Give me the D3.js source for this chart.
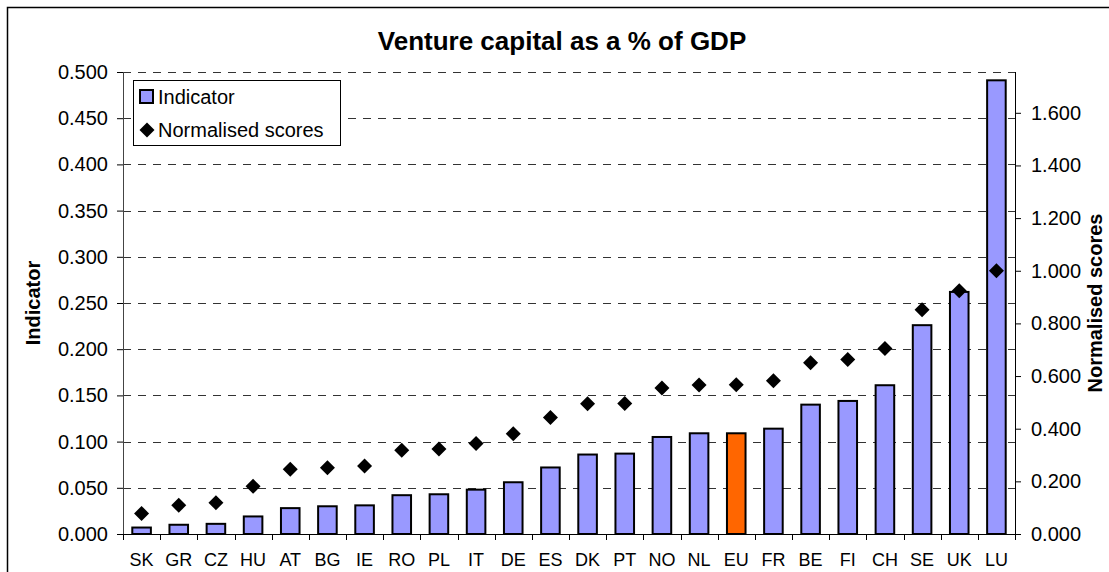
<!DOCTYPE html>
<html>
<head>
<meta charset="utf-8">
<script src="https://cdn.jsdelivr.net/npm/d3@7"></script>
<style>
  body { margin: 0; background: #fff; }
  svg text { font-family: "Liberation Sans", Arial, sans-serif; fill: #000; }
</style>
</head>
<body>
<svg id="chart" width="1109" height="572"></svg>
<script>
// values
var countries = ["SK","GR","CZ","HU","AT","BG","IE","RO","PL","IT","DE","ES",
                 "DK","PT","NO","NL","EU","FR","BE","FI","CH","SE","UK","LU"];
var indicator = [0.007,0.010,0.011,0.019,0.028,0.030,0.031,0.042,0.043,0.048,0.056,0.072,
                 0.086,0.087,0.105,0.109,0.109,0.114,0.140,0.144,0.161,0.226,0.262,0.491];
var normalised = [0.078,0.109,0.119,0.181,0.246,0.252,0.258,0.318,0.323,0.344,0.381,0.443,
                  0.495,0.496,0.555,0.566,0.567,0.582,0.651,0.663,0.705,0.852,0.924,1.000];
var leftTicks = [0,0.05,0.1,0.15,0.2,0.25,0.3,0.35,0.4,0.45,0.5];
var rightTicks = [0,0.2,0.4,0.6,0.8,1.0,1.2,1.4,1.6];

var rows = countries.map(function(c, i) {
  return { id: c, value: indicator[i], score: normalised[i] };
});

var svg = d3.select("#chart"),
    plotLeft = 123, plotRight = 1015, plotTop = 72, plotBottom = 534;

var x = d3.scaleBand().domain(countries).range([plotLeft, plotRight])
    .paddingInner(0.5).paddingOuter(0.25);
var yL = d3.scaleLinear().domain([0, 0.5]).range([plotBottom, plotTop]);
var yR = d3.scaleLinear().domain([0, 1.755]).range([plotBottom, plotTop]);

// outer frame (cropped on the right and bottom in the reference)
svg.append("rect")
  .attr("x", 7.5).attr("y", 7.5)
  .attr("width", 1200).attr("height", 700)
  .attr("fill", "none").attr("stroke", "#000").attr("stroke-width", 1.5);

svg.append("text")
  .attr("x", 562).attr("y", 50)
  .attr("text-anchor", "middle")
  .attr("font-weight", "bold")
  .attr("font-size", 26)
  .text("Venture capital as a % of GDP");

// gridlines
svg.append("g").selectAll("line")
  .data(leftTicks.slice(1))
  .enter().append("line")
  .attr("x1", plotLeft).attr("x2", plotRight)
  .attr("y1", function(d) { return Math.round(yL(d)) + 0.5; })
  .attr("y2", function(d) { return Math.round(yL(d)) + 0.5; })
  .attr("stroke", "#333").attr("stroke-dasharray", "8,7");

// bars
svg.append("g").selectAll("rect")
  .data(rows)
  .enter().append("rect")
  .attr("x", function(d) { return x(d.id); })
  .attr("y", function(d) { return yL(d.value); })
  .attr("width", x.bandwidth())
  .attr("height", function(d) { return plotBottom - yL(d.value); })
  .attr("fill", function(d) { return d.id === "EU" ? "#ff6600" : "#9999ff"; })
  .attr("stroke", "#000").attr("stroke-width", 2);

// diamonds
var diamond = "M0,-7.5L7.5,0L0,7.5L-7.5,0Z";
svg.append("g").selectAll("path")
  .data(rows)
  .enter().append("path")
  .attr("d", diamond)
  .attr("transform", function(d) {
    return "translate(" + (x(d.id) + x.bandwidth() / 2) + "," + yR(d.score) + ")";
  })
  .attr("fill", "#000");

// left axis
var axL = svg.append("g")
  .attr("transform", "translate(" + plotLeft + ",0)")
  .call(d3.axisLeft(yL).tickValues(leftTicks).tickFormat(d3.format(".3f")).tickSize(6).tickPadding(9));
axL.select(".domain").attr("stroke", "#444");
axL.selectAll("text").attr("font-size", 20).attr("font-family", null);

// right axis
var axR = svg.append("g")
  .attr("transform", "translate(" + plotRight + ",0)")
  .call(d3.axisRight(yR).tickValues(rightTicks).tickFormat(d3.format(".3f")).tickSize(6).tickPadding(10));
axR.selectAll("text").attr("font-size", 20).attr("font-family", null);
axR.select(".domain").attr("d", "M0.5," + plotTop + "V" + plotBottom);

// bottom axis: ticks between categories
var xg = svg.append("g");
xg.append("line")
  .attr("x1", plotLeft - 6).attr("x2", plotRight + 6)
  .attr("y1", plotBottom + 0.5).attr("y2", plotBottom + 0.5)
  .attr("stroke", "#000");
xg.selectAll("line.tick")
  .data(countries.concat(["end"]))
  .enter().append("line")
  .attr("class", "tick")
  .attr("x1", function(d, i) { return Math.round(plotLeft + i * x.step()) + 0.5; })
  .attr("x2", function(d, i) { return Math.round(plotLeft + i * x.step()) + 0.5; })
  .attr("y1", plotBottom).attr("y2", plotBottom + 6)
  .attr("stroke", "#000");
xg.selectAll("text")
  .data(countries)
  .enter().append("text")
  .attr("x", function(d) { return x(d) + x.bandwidth() / 2; })
  .attr("y", 566)
  .attr("text-anchor", "middle")
  .attr("font-size", 18)
  .text(function(d) { return d; });

// axis titles
svg.append("text")
  .attr("transform", "translate(40," + (plotTop + plotBottom) / 2 + ") rotate(-90)")
  .attr("text-anchor", "middle")
  .attr("font-weight", "bold").attr("font-size", 20)
  .text("Indicator");
svg.append("text")
  .attr("transform", "translate(1102," + (plotTop + plotBottom) / 2 + ") rotate(-90)")
  .attr("text-anchor", "middle")
  .attr("font-weight", "bold").attr("font-size", 20)
  .text("Normalised scores");

// legend
var lg = svg.append("g");
lg.append("rect")
  .attr("x", 133.5).attr("y", 80.5).attr("width", 207).attr("height", 65)
  .attr("fill", "#fff").attr("stroke", "#000");
lg.append("rect")
  .attr("x", 140).attr("y", 90).attr("width", 13).attr("height", 13)
  .attr("fill", "#9999ff").attr("stroke", "#000").attr("stroke-width", 2);
lg.append("text").attr("x", 158).attr("y", 104).attr("font-size", 20).text("Indicator");
lg.append("path").attr("d", diamond).attr("transform", "translate(147,130)").attr("fill", "#000");
lg.append("text").attr("x", 158).attr("y", 137).attr("font-size", 20).text("Normalised scores");
</script>
</body>
</html>
